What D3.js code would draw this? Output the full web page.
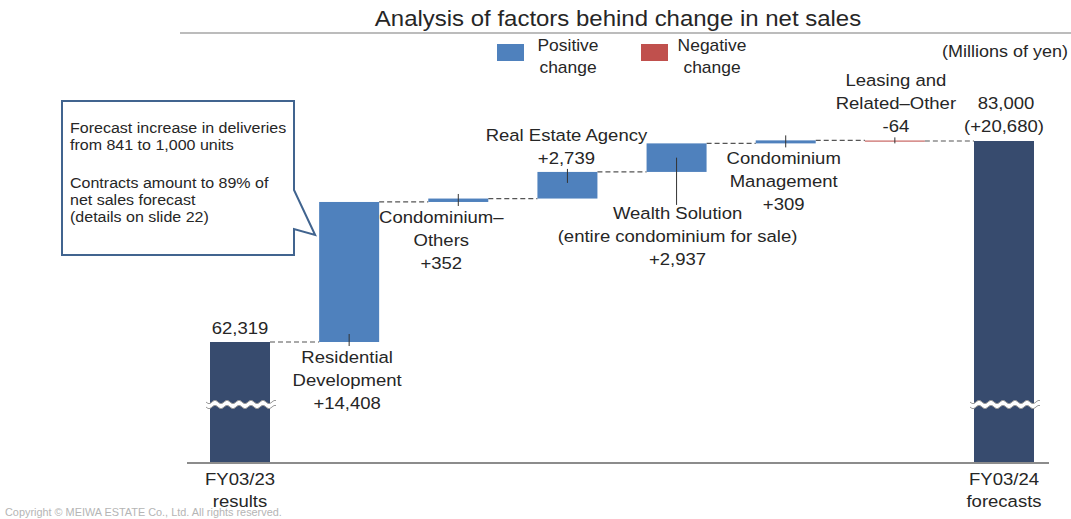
<!DOCTYPE html>
<html>
<head>
<meta charset="utf-8">
<script src="https://cdn.jsdelivr.net/npm/d3@7"></script>
<style>
  body { margin: 0; background: #fff; }
  svg { display: block; font-family: "Liberation Sans", Arial, sans-serif; }
</style>
</head>
<body>
<div id="chart"></div>
<script>
// data (millions of yen)
const startLabel = ["FY03/23", "results"];
const startValue = 62319;
const endLabel = ["FY03/24", "forecasts"];
const endValue = 83000;
const endChange = "(+20,680)";

const changeNames = [
  ["Residential", "Development"],
  ["Condominium\u2013", "Others"],
  ["Real Estate Agency"],
  ["Wealth Solution", "(entire condominium for sale)"],
  ["Condominium", "Management"],
  ["Leasing and", "Related\u2013Other"],
];
const changeValues = [14408, 352, 2739, 2937, 309, -64];
const changeTexts = ["+14,408", "+352", "+2,739", "+2,937", "+309", "-64"];

const legendItems = [["Positive", "change"], ["Negative", "change"]];
const calloutLines = [
  "Forecast increase in deliveries",
  "from 841 to 1,000 units",
  "",
  "Contracts amount to 89% of",
  "net sales forecast",
  "(details on slide 22)",
];

const W = 1071, H = 519;
const colPos = "#4f81bd", colNeg = "#c0504d", colTotal = "#374b6e";
const sx = 1.09; // text on the slide is a bit wide

const svg = d3.select("#chart").append("svg").attr("width", W).attr("height", H);

function txt(x, y, str, size, anchor = "middle", fill = "#262626") {
  return svg.append("text")
    .attr("transform", `translate(${x},${y}) scale(${sx},1)`)
    .attr("text-anchor", anchor)
    .style("font-size", size + "px")
    .style("fill", fill)
    .text(str);
}

// waterfall steps
let run = startValue;
const steps = changeValues.map((v, i) => {
  const s = { i: i + 1, from: run, to: run + v, v };
  run += v;
  return s;
});

const x = d3.scalePoint().domain(d3.range(8)).range([240, 1004]);
const bw = 60;
// axis is broken: the floor sits well above zero
const y = d3.scaleLinear().domain([49870, endValue]).range([463, 141]);

// title
txt(618, 26, "Analysis of factors behind change in net sales", 22);
svg.append("line").attr("x1", 180).attr("x2", W).attr("y1", 33).attr("y2", 33)
  .attr("stroke", "#a6a6a6").attr("stroke-width", 1.5);

// legend
[colPos, colNeg].forEach((c, k) => {
  const lx = 497 + k * 144;
  svg.append("rect").attr("x", lx).attr("y", 44).attr("width", 27).attr("height", 17)
    .attr("fill", c);
  legendItems[k].forEach((t, j) => txt(lx + 71, 51 + j * 22, t, 16));
});
txt(1068, 57, "(Millions of yen)", 16.5, "end");

// connectors
const levels = [startValue].concat(steps.map((s) => s.to));
levels.forEach((lv, i) => {
  svg.append("line")
    .attr("x1", x(i) + bw / 2).attr("x2", x(i + 1) - bw / 2)
    .attr("y1", y(lv)).attr("y2", y(lv))
    .attr("stroke", "#555").attr("stroke-width", 1.2).attr("stroke-dasharray", "5,3");
});

// totals
[[0, startValue], [7, endValue]].forEach(([i, v]) => {
  svg.append("rect").attr("x", x(i) - bw / 2).attr("y", y(v))
    .attr("width", bw).attr("height", y.range()[0] - y(v)).attr("fill", colTotal);
});

// change bars
svg.selectAll("rect.step").data(steps).enter().append("rect")
  .attr("class", "step")
  .attr("x", (d) => x(d.i) - bw / 2)
  .attr("y", (d) => y(Math.max(d.from, d.to)))
  .attr("width", bw)
  .attr("height", (d) => Math.max(1.5, Math.abs(y(d.from) - y(d.to))))
  .attr("fill", (d) => (d.v >= 0 ? colPos : colNeg))
  .attr("opacity", (d) => (d.v >= 0 ? 1 : 0.7));

// break marks on the total bars
const yb = (y.range()[0] + y(startValue)) / 2 + 2;
function wave(x0, x1, y0) {
  const pts = [];
  for (let t = x0; t <= x1; t += 1) pts.push([t, y0 + 1.6 * Math.sin(((t - x0) / 12) * 2 * Math.PI)]);
  return pts;
}
[0, 7].forEach((i) => {
  const a = wave(x(i) - 34, x(i) + 36, yb - 2.5);
  const b = wave(x(i) - 34, x(i) + 36, yb + 2.5).reverse();
  svg.append("path").attr("d", d3.line()(a.concat(b)) + "Z").attr("fill", "#fff").attr("stroke", "none");
  [a, b].forEach((p) => svg.append("path").attr("d", d3.line()(p))
    .attr("fill", "none").attr("stroke", "#9a9a9a").attr("stroke-width", 1));
});

// axis line
svg.append("line").attr("x1", 187).attr("x2", 1049).attr("y1", 463).attr("y2", 463)
  .attr("stroke", "#8c8c8c").attr("stroke-width", 2);

// category labels of totals
startLabel.forEach((t, j) => txt(x(0), 485 + j * 22, t, 17));
endLabel.forEach((t, j) => txt(x(7), 485 + j * 22, t, 17));
txt(x(0), y(startValue) - 8, d3.format(",")(startValue), 17);
txt(x(7) + 2, y(endValue) - 32, d3.format(",")(endValue), 17);
txt(x(7), y(endValue) - 9, endChange, 17);

// change labels with leader ticks
const above = [false, false, true, false, false, true];
const dxs = [-2, -17, -1, 1, -2, 1];
steps.forEach((s, k) => {
  const lines = changeNames[k].concat([changeTexts[k]]);
  const top = y(Math.max(s.from, s.to));
  const bot = y(Math.min(s.from, s.to));
  const cx = x(s.i) + dxs[k];
  let y0;
  if (above[k]) {
    y0 = top - 8 - (lines.length - 1) * 23;
    svg.append("line").attr("x1", x(s.i)).attr("x2", x(s.i)).attr("y1", top - 3).attr("y2", top + (k === 5 ? 3 : 11))
      .attr("stroke", "#333");
  } else if (k === 3) {
    y0 = bot + 47;
    svg.append("line").attr("x1", x(s.i)).attr("x2", x(s.i)).attr("y1", (top + bot) / 2).attr("y2", bot + 33)
      .attr("stroke", "#333");
  } else {
    y0 = bot + 21;
    svg.append("line").attr("x1", x(s.i)).attr("x2", x(s.i)).attr("y1", bot - 8).attr("y2", bot + 4)
      .attr("stroke", "#333");
  }
  lines.forEach((t, j) => txt(cx, y0 + j * 23, t, 17));
});

// callout
const tipX = x(1) - bw / 2 - 4;
svg.append("path")
  .attr("d", `M62,101 L294,101 L294,190 L${tipX},235 L294,229 L294,255 L62,255 Z`)
  .attr("fill", "#fff").attr("stroke", "#41648f").attr("stroke-width", 2);
calloutLines.forEach((t, j) => {
  const yy = j < 2 ? 133 + j * 17 : 188 + (j - 3) * 17;
  if (t) txt(70, yy, t, 14.7, "start");
});

// footer
txt(5, 516, "Copyright \u00a9 MEIWA ESTATE Co., Ltd. All rights reserved.", 10, "start", "#b5b5b5");
</script>
</body>
</html>
